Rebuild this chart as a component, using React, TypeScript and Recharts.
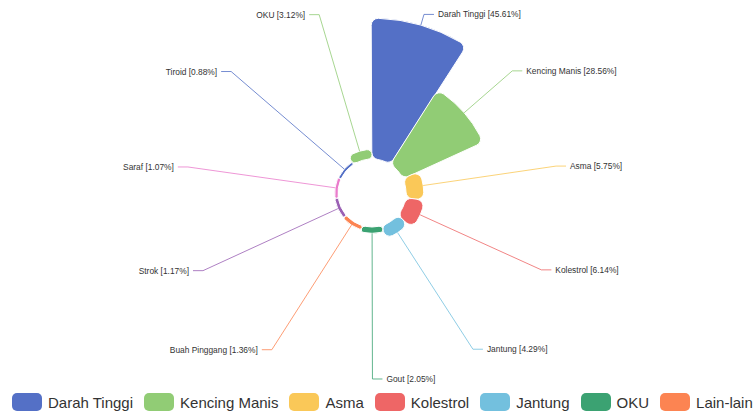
import { RadialBarChart, RadialBar, PolarAngleAxis, PolarRadiusAxis, Cell, LabelList } from "recharts";

const categories = [
  "Darah Tinggi",
  "Kencing Manis",
  "Asma",
  "Kolestrol",
  "Jantung",
  "Gout",
  "Buah Pinggang",
  "Strok",
  "Saraf",
  "Tiroid",
  "OKU",
];
const percentages = [45.61, 28.56, 5.75, 6.14, 4.29, 2.05, 1.36, 1.17, 1.07, 0.88, 3.12];
const colors = [
  "#5470c6",
  "#91cc75",
  "#fac858",
  "#ee6666",
  "#73c0de",
  "#3ba272",
  "#fc8452",
  "#9a60b4",
  "#ea7ccc",
  "#5470c6",
  "#91cc75",
];

const legendNames = ["Darah Tinggi", "Kencing Manis", "Asma", "Kolestrol", "Jantung", "OKU", "Lain-lain"];
const legendColors = ["#5470c6", "#91cc75", "#fac858", "#ee6666", "#73c0de", "#3ba272", "#fc8452"];

const data = categories.map((name, i) => ({
  name,
  value: percentages[i],
  text: `${name} [${percentages[i].toFixed(2)}%]`,
}));

const CX = 372;
const CY = 193;
const OUTER = 176;
const LINE_R = OUTER + 10;
const RAD = Math.PI / 180;
// recharts puts each centric band one step counter-clockwise, so shift the start by one band
const BAND = 360 / categories.length;

function renderLabel(props: any) {
  const { viewBox, value } = props;
  const idx = typeof props.index === "number" ? props.index : data.findIndex((d) => d.text === value);
  if (!viewBox) return null;
  const { cx, cy, outerRadius, startAngle, endAngle } = viewBox;
  const mid = (startAngle + endAngle) / 2;
  const cos = Math.cos(-mid * RAD);
  const sin = Math.sin(-mid * RAD);
  const x0 = cx + outerRadius * cos;
  const y0 = cy + outerRadius * sin;
  const x1 = cx + LINE_R * cos;
  const y1 = cy + LINE_R * sin;
  const right = cos > -0.01;
  const x2 = x1 + (right ? 10 : -10);
  const color = colors[idx] ?? "#999";
  return (
    <g key={`lbl-${idx}`}>
      <polyline
        points={`${x0},${y0} ${x1},${y1} ${x2},${y1}`}
        fill="none"
        stroke={color}
        strokeOpacity={0.8}
        strokeWidth={1}
      />
      <text
        x={x2 + (right ? 4 : -4)}
        y={y1}
        textAnchor={right ? "start" : "end"}
        dominantBaseline="central"
        fontSize={8.4}
        fill="#333"
        fontFamily="'Liberation Sans', Arial, sans-serif"
      >
        {value}
      </text>
    </g>
  );
}

export default function App() {
  return (
    <div style={{ position: "absolute", left: 0, top: 0, width: 756, height: 412, background: "#fff", overflow: "hidden" }}>
      <RadialBarChart
        width={756}
        height={412}
        data={data}
        layout="centric"
        cx={CX}
        cy={CY}
        innerRadius={34}
        outerRadius={OUTER}
        startAngle={90 - BAND}
        endAngle={-270 - BAND}
        barCategoryGap={0}
        margin={{ top: 0, right: 0, bottom: 0, left: 0 }}
      >
        <PolarAngleAxis type="category" dataKey="name" tick={false} axisLine={false} tickLine={false} />
        <PolarRadiusAxis type="number" domain={[0, "dataMax"]} tick={false} axisLine={false} tickLine={false} />
        <RadialBar dataKey="value" cornerRadius={7} stroke="#fff" strokeWidth={1} isAnimationActive={false}>
          {data.map((d, i) => (
            <Cell key={d.name} fill={colors[i]} />
          ))}
          <LabelList dataKey="text" content={renderLabel} />
        </RadialBar>
      </RadialBarChart>
      <div
        style={{
          position: "absolute",
          left: 12,
          top: 393,
          display: "flex",
          alignItems: "center",
          fontFamily: "'Liberation Sans', Arial, sans-serif",
          fontSize: 15,
          color: "#333",
          whiteSpace: "nowrap",
        }}
      >
        {legendNames.map((name, i) => (
          <div key={name} style={{ display: "flex", alignItems: "center", marginRight: 11 }}>
            <span
              style={{
                display: "inline-block",
                width: 30,
                height: 18,
                borderRadius: 5,
                background: legendColors[i],
                marginRight: 6,
              }}
            />
            <span>{name}</span>
          </div>
        ))}
      </div>
    </div>
  );
}
